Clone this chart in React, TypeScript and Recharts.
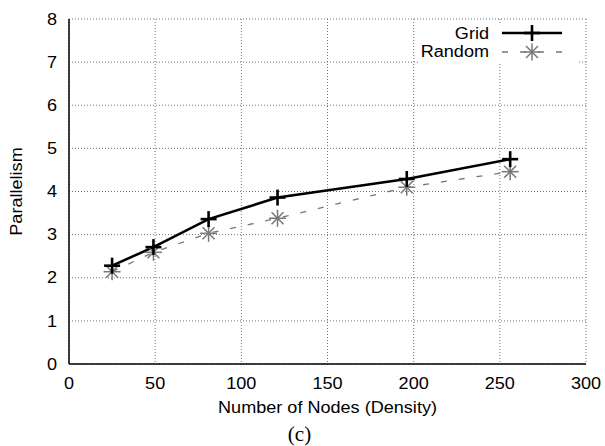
import React from 'react';
import { LineChart, Line, XAxis, YAxis, CartesianGrid, Legend } from 'recharts';

const nodes = [25, 49, 81, 121, 196, 256];
const gridValues = [2.28, 2.71, 3.36, 3.86, 4.29, 4.75];
const randomValues = [2.14, 2.59, 3.03, 3.38, 4.1, 4.46];
const xTicks = [0, 50, 100, 150, 200, 250, 300];
const yTicks = [0, 1, 2, 3, 4, 5, 6, 7, 8];
const seriesNames = ['Grid', 'Random'];

const data = nodes.map((n, i) => ({ nodes: n, grid: gridValues[i], random: randomValues[i] }));

const FONT = '"Liberation Sans", Arial, sans-serif';
const GRAY = '#777777';
const FS = 16;
const SX = 1.13;

const SText = (p: any) => {
  const { x, y, anchor = 'middle', dy, rotate = 0, children, family = FONT, size = FS, sx = SX } = p;
  return (
    <text
      transform={`translate(${x},${y}) rotate(${rotate}) scale(${sx},1)`}
      x={0}
      y={0}
      dy={dy}
      textAnchor={anchor}
      fontFamily={family}
      fontSize={size}
      fill="#000"
    >
      {children}
    </text>
  );
};

const XTick = (props: any) => (
  <SText x={props.x} y={props.y} anchor="middle" dy="0.71em">{props.payload.value}</SText>
);
const YTick = (props: any) => (
  <SText x={props.x} y={props.y} anchor="end" dy="0.355em">{props.payload.value}</SText>
);

const PlusDot = (props: any) => {
  const { cx, cy } = props;
  if (cx == null || cy == null) return null;
  return (
    <g>
      <line x1={cx - 8} y1={cy} x2={cx + 8} y2={cy} stroke="#000" strokeWidth={2.6} />
      <line x1={cx} y1={cy - 8} x2={cx} y2={cy + 8} stroke="#000" strokeWidth={2.6} />
    </g>
  );
};

const StarDot = (props: any) => {
  const { cx, cy } = props;
  if (cx == null || cy == null) return null;
  const r = 8.5;
  const d = 6;
  return (
    <g stroke={GRAY} strokeWidth={1.5}>
      <line x1={cx - r} y1={cy} x2={cx + r} y2={cy} />
      <line x1={cx} y1={cy - r} x2={cx} y2={cy + r} />
      <line x1={cx - d} y1={cy - d} x2={cx + d} y2={cy + d} />
      <line x1={cx - d} y1={cy + d} x2={cx + d} y2={cy - d} />
    </g>
  );
};

const LegendContent = () => (
  <svg width={158} height={38} style={{ display: 'block' }}>
    <SText x={69} y={13.5} anchor="end">{seriesNames[0]}</SText>
    <line x1={82} y1={8} x2={142} y2={8} stroke="#000" strokeWidth={2.6} />
    <PlusDot cx={112} cy={8} />
    <SText x={69} y={32} anchor="end">{seriesNames[1]}</SText>
    <line x1={82} y1={27} x2={142} y2={27} stroke={GRAY} strokeWidth={1.3} strokeDasharray="6 12" />
    <StarDot cx={112} cy={27} />
  </svg>
);

const YLabel = (props: any) => {
  const vb = props.viewBox || {};
  const cy = vb.y + vb.height / 2;
  return (
    <SText x={21.5} y={cy} rotate={-90} anchor="middle">Parallelism</SText>
  );
};

const XLabel = (props: any) => {
  const vb = props.viewBox || {};
  const cx = vb.x + vb.width / 2;
  return (
    <g>
      <SText x={cx} y={vb.y + 49} anchor="middle">Number of Nodes (Density)</SText>
      <SText
        x={cx - 28}
        y={vb.y + 77}
        anchor="middle"
        family='"Liberation Serif", "Times New Roman", serif'
        size={21}
        sx={1}
      >
        (c)
      </SText>
    </g>
  );
};

const axisLineStyle = { stroke: '#000', strokeWidth: 1.5 };
const tickLineStyle = { stroke: '#000', strokeWidth: 1 };

export default function App() {
  return (
    <div style={{ position: 'absolute', left: 0, top: 0, width: 605, height: 446, background: '#fff' }}>
      <LineChart width={605} height={446} data={data} margin={{ top: 19, right: 19, bottom: 0, left: 0 }}>
        <CartesianGrid stroke={GRAY} strokeDasharray="1 2" strokeWidth={1} />
        <XAxis
          dataKey="nodes"
          type="number"
          domain={[0, 300]}
          ticks={xTicks}
          height={82}
          axisLine={axisLineStyle}
          tickLine={false}
          tickSize={0}
          tickMargin={14}
          tick={<XTick />}
          label={<XLabel />}
        />
        <XAxis
          xAxisId="bottomTicks"
          orientation="bottom"
          mirror
          dataKey="nodes"
          type="number"
          domain={[0, 300]}
          ticks={xTicks}
          height={0}
          axisLine={false}
          tickLine={tickLineStyle}
          tickSize={5}
          tick={false}
        />
        <XAxis
          xAxisId="top"
          orientation="top"
          mirror
          dataKey="nodes"
          type="number"
          domain={[0, 300]}
          ticks={xTicks}
          height={0}
          axisLine={axisLineStyle}
          tickLine={tickLineStyle}
          tickSize={5}
          tick={false}
        />
        <YAxis
          type="number"
          domain={[0, 8]}
          ticks={yTicks}
          width={69}
          axisLine={axisLineStyle}
          tickLine={false}
          tickSize={0}
          tickMargin={12}
          tick={<YTick />}
          label={<YLabel />}
        />
        <YAxis
          yAxisId="leftTicks"
          orientation="left"
          mirror
          type="number"
          domain={[0, 8]}
          ticks={yTicks}
          width={0}
          axisLine={false}
          tickLine={tickLineStyle}
          tickSize={5}
          tick={false}
        />
        <YAxis
          yAxisId="right"
          orientation="right"
          mirror
          type="number"
          domain={[0, 8]}
          ticks={yTicks}
          width={0}
          axisLine={axisLineStyle}
          tickLine={tickLineStyle}
          tickSize={5}
          tick={false}
        />
        <Legend
          layout="horizontal"
          verticalAlign="middle"
          align="center"
          content={<LegendContent />}
          wrapperStyle={{ left: 420, top: 25, width: 158, height: 38, backgroundColor: '#fff' }}
        />
        <Line
          dataKey="random"
          name={seriesNames[1]}
          stroke={GRAY}
          strokeWidth={1.3}
          strokeDasharray="6 12"
          dot={<StarDot />}
          activeDot={false}
          isAnimationActive={false}
        />
        <Line
          dataKey="grid"
          name={seriesNames[0]}
          stroke="#000"
          strokeWidth={2.6}
          dot={<PlusDot />}
          activeDot={false}
          isAnimationActive={false}
        />
      </LineChart>
    </div>
  );
}
